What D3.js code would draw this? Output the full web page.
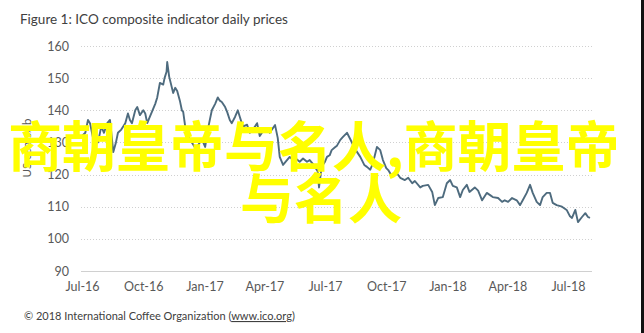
<!DOCTYPE html>
<html>
<head>
<meta charset="utf-8">
<script src="https://cdn.jsdelivr.net/npm/d3@7"></script>
<style>
  html, body { margin: 0; padding: 0; background: #fff; }
  svg { display: block; }
</style>
</head>
<body>
<svg id="chart" width="644" height="333"></svg>
<script>
// ICO composite indicator, US cents/lb (sampled from the daily series)
const dates = [
  "2016-07-01","2016-07-06","2016-07-10","2016-07-13","2016-07-18","2016-07-21","2016-07-25","2016-07-30",
  "2016-08-03","2016-08-08","2016-08-12","2016-08-17","2016-08-21","2016-08-24","2016-08-29",
  "2016-09-04","2016-09-08","2016-09-11","2016-09-14","2016-09-19","2016-09-22","2016-09-26",
  "2016-10-01","2016-10-04","2016-10-07","2016-10-11","2016-10-14","2016-10-19","2016-10-22","2016-10-26","2016-10-31",
  "2016-11-02","2016-11-05","2016-11-06","2016-11-09","2016-11-15","2016-11-18","2016-11-21","2016-11-25","2016-11-28","2016-11-30",
  "2016-12-03","2016-12-07","2016-12-13","2016-12-19","2016-12-25","2016-12-28",
  "2017-01-02","2017-01-06","2017-01-09","2017-01-12","2017-01-17","2017-01-21","2017-01-24","2017-01-27",
  "2017-02-01","2017-02-04","2017-02-08","2017-02-11","2017-02-16","2017-02-20","2017-02-23","2017-02-26","2017-02-28",
  "2017-03-06","2017-03-10","2017-03-13","2017-03-18","2017-03-21","2017-03-25",
  "2017-04-02","2017-04-06","2017-04-09","2017-04-17","2017-04-21","2017-04-24","2017-04-29",
  "2017-05-03","2017-05-09","2017-05-14","2017-05-18","2017-05-24","2017-05-29",
  "2017-06-04","2017-06-08","2017-06-14","2017-06-20","2017-06-22","2017-06-26",
  "2017-07-01","2017-07-04","2017-07-08","2017-07-11","2017-07-16","2017-07-19","2017-07-24","2017-07-28",
  "2017-08-03","2017-08-08","2017-08-15","2017-08-23","2017-08-29",
  "2017-09-02","2017-09-07","2017-09-11","2017-09-17","2017-09-22","2017-09-26",
  "2017-10-01","2017-10-04","2017-10-10","2017-10-17","2017-10-22","2017-10-29",
  "2017-11-03","2017-11-09","2017-11-13","2017-11-21","2017-11-25",
  "2017-12-03","2017-12-09","2017-12-13","2017-12-18","2017-12-25","2017-12-31",
  "2018-01-05","2018-01-09","2018-01-15","2018-01-20","2018-01-24","2018-01-30",
  "2018-02-03","2018-02-11","2018-02-16","2018-02-22",
  "2018-03-01","2018-03-06","2018-03-10","2018-03-18","2018-03-24","2018-03-28",
  "2018-04-02","2018-04-08","2018-04-15","2018-04-20","2018-04-24","2018-04-30",
  "2018-05-05","2018-05-09","2018-05-15","2018-05-20","2018-05-24","2018-05-30",
  "2018-06-04","2018-06-08","2018-06-14","2018-06-22","2018-06-29",
  "2018-07-04","2018-07-07","2018-07-12","2018-07-16","2018-07-22","2018-07-27","2018-07-31","2018-08-03"
];
const prices = [
  132,133,137,136,131,132,130,135,
  133,136,137,127,130,133,134,
  136,139,137,136,140,141,138.5,
  140,139,136,138,139.5,142,144,148.5,148,
  150,152,155,150.4,145.4,147,146,143,140,139.5,
  135,132,130,128,130,131,
  128.6,134,137,140,142,144,143,142.6,
  141,139.5,137,136,138,140,138,136,135,
  135.5,133,133.5,135,136,132,
  134.5,134,133,135.4,131.4,125.5,123,
  124,125.5,124.5,125,124,125,
  124,124.5,123,121,116,122.4,
  124,125.5,126,127.6,128.5,129,130.8,131.7,
  133,131,128,125.5,123,
  122.4,121.5,123.6,128.6,127.6,124.5,
  122,121.4,119.3,120.4,119,118.3,
  119,117.3,118,116,116.5,
  116.8,114.6,110.5,112.7,113,117.3,
  118.3,116.5,116,113,115.2,116.8,
  114.6,116,115,112,
  114.3,113.6,113,112.7,111.5,112,
  111.5,112.7,112,110.5,112,114.3,
  116.8,114.3,111.5,110.5,113,114.3,
  114.3,111.2,110.5,110,109,
  107,106.5,109,105.2,106.8,108,106.8,106.5
];
const yTicks = [90, 100, 110, 120, 130, 140, 150, 160];
const xTickDates = ["2016-07-01","2016-10-01","2017-01-01","2017-04-01","2017-07-01","2017-10-01","2018-01-01","2018-04-01","2018-07-01"];
const titleText = "Figure 1: ICO composite indicator daily prices";
const yLabel = "US cents/lb";
const sourceText = "© 2018 International Coffee Organization (";
const sourceLink = "www.ico.org";
const overlayLines = ["商朝皇帝与名人,商朝皇帝", "与名人"];

const parse = d3.timeParse("%Y-%m-%d");
const series = dates.map((d, i) => ({ date: parse(d), value: prices[i] }));

const svg = d3.select("#chart");
const plotLeft = 81, plotRight = 592, plotTop = 46, plotBottom = 271;

const x = d3.scaleTime()
  .domain([parse("2016-07-01"), parse("2018-07-01")])
  .range([82, 568]);
const y = d3.scaleLinear().domain([90, 160]).range([plotBottom, plotTop]);

const font = "Lato, 'Open Sans', sans-serif";

// title
svg.append("text")
  .attr("x", 20).attr("y", 24)
  .attr("font-family", font).attr("font-size", 13.5)
  .attr("fill", "#404040")
  .text(titleText);

// horizontal gridlines
svg.append("g")
  .selectAll("line")
  .data(yTicks)
  .join("line")
  .attr("x1", plotLeft).attr("x2", plotRight)
  .attr("y1", d => Math.round(y(d)) + 0.5).attr("y2", d => Math.round(y(d)) + 0.5)
  .attr("stroke", "#d0d0d0")
  .attr("stroke-width", 1)
  .attr("stroke-dasharray", d => d === 90 ? null : "1,2");

// y axis labels
const yAxis = d3.axisLeft(y).tickValues(yTicks).tickSize(0).tickPadding(12);
const gy = svg.append("g").attr("transform", `translate(${plotLeft},0)`).call(yAxis);
gy.select(".domain").remove();
gy.selectAll("text")
  .attr("font-family", font).attr("font-size", 12.5).attr("fill", "#595959");

// x axis labels
const xAxis = d3.axisBottom(x)
  .tickValues(xTickDates.map(parse))
  .tickFormat(d3.timeFormat("%b-%y"))
  .tickSize(0).tickPadding(11);
const gx = svg.append("g").attr("transform", `translate(0,${plotBottom})`).call(xAxis);
gx.select(".domain").remove();
gx.selectAll("text")
  .attr("font-family", font).attr("font-size", 12.5).attr("fill", "#595959");

// y axis title
svg.append("text")
  .attr("transform", "translate(31,148) rotate(-90)")
  .attr("text-anchor", "middle")
  .attr("font-family", font).attr("font-size", 11.5)
  .attr("fill", "#595959")
  .text(yLabel);

// price line
const line = d3.line().x(d => x(d.date)).y(d => y(d.value));
svg.append("path")
  .datum(series)
  .attr("d", line)
  .attr("fill", "none")
  .attr("stroke", "#4e6b7e")
  .attr("stroke-width", 1.9)
  .attr("stroke-linejoin", "round");

// source line
const src = svg.append("text")
  .attr("x", 24).attr("y", 320)
  .attr("font-family", font).attr("font-size", 11)
  .attr("fill", "#404040");
src.append("tspan").text(sourceText);
src.append("tspan").attr("text-decoration", "underline").text(sourceLink);
src.append("tspan").text(")");

// yellow overlay caption
const cap = svg.append("g")
  .attr("font-family", "'Noto Sans CJK SC', sans-serif")
  .attr("font-weight", 700)
  .attr("font-size", 54)
  .attr("fill", "#ffff00");
cap.append("text").attr("x", 8).attr("y", 167).text(overlayLines[0]);
cap.append("text").attr("x", 240).attr("y", 219).text(overlayLines[1]);

// right border strip
svg.append("rect").attr("x", 641).attr("y", 0).attr("width", 3).attr("height", 333).attr("fill", "#111");
</script>
</body>
</html>
